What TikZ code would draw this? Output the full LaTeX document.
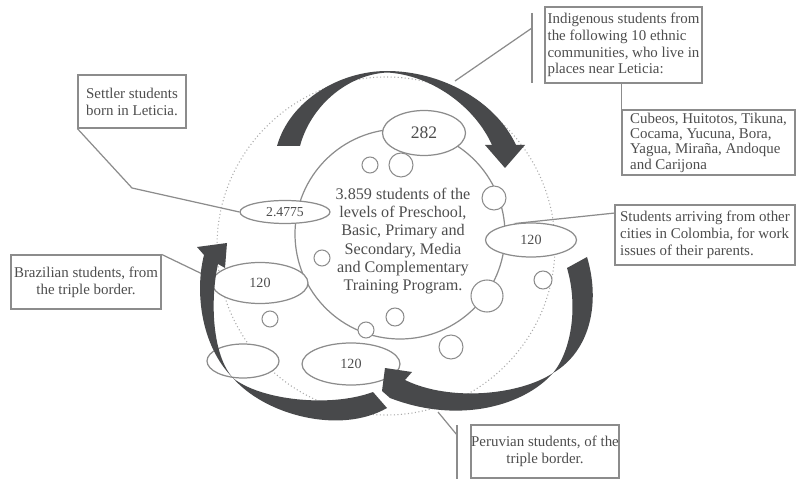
\documentclass[tikz,border=0pt]{standalone}
\usepackage{fontspec}
\setmainfont{Liberation Serif}
\usetikzlibrary{shapes.geometric}
\definecolor{linegray}{HTML}{8C8C8C}
\definecolor{dotgray}{HTML}{AAAAAA}
\definecolor{textgray}{HTML}{4D4D4D}
\definecolor{arrowgray}{HTML}{48494B}
\tikzset{
  note/.style={draw=linegray, line width=0.7pt, fill=white, text=textgray, inner sep=0pt, font=\fontsize{8.5}{9.6}\selectfont},
  blob/.style={ellipse, draw=linegray, line width=0.7pt, fill=white, text=textgray, inner sep=0pt},
  bubble/.style={circle, draw=linegray, line width=0.6pt, fill=white, inner sep=0pt},
  link/.style={draw=linegray, line width=0.7pt},
  bigarrow/.style={fill=arrowgray, draw=none}
}
\begin{document}
\begin{tikzpicture}[x=0.02cm, y=-0.02cm]
\useasboundingbox (0,0) rectangle (797,479);
\node[note, align=left, minimum width=2.16cm, minimum height=1.06cm] (settler) at (132,101.5) {Settler students\\born in Leticia.};
\node[note, align=left, minimum width=3.14cm, minimum height=1.52cm] (indig) at (623.5,45) {Indigenous students from\\the following 10 ethnic\\communities, who live in\\places near Leticia:};
\node[note, align=left, minimum width=3.46cm, minimum height=1.30cm, font=\fontsize{8.5}{8.7}\selectfont] (tribes) at (708.5,142.5) {Cubeos, Huitotos, Tikuna,\\Cocama, Yucuna, Bora,\\Yagua, Miraña, Andoque\\and Carijona};
\node[note, align=left, minimum width=3.60cm, minimum height=1.20cm] (colombia) at (705,235) {Students arriving from other\\cities in Colombia, for work\\issues of their parents.};
\node[note, align=center, minimum width=3.00cm, minimum height=1.08cm] (brazil) at (86,282) {Brazilian students, from\\the triple border.};
\node[note, align=center, minimum width=2.96cm, minimum height=1.06cm] (peru) at (545,451.5) {Peruvian students, of the\\triple border.};
\draw[dotgray, line width=0.6pt, dash pattern=on 0.6pt off 1.4pt] (386,246) circle (169);
\draw[linegray, line width=0.7pt] (400,234) circle (105);
\coordinate (ibarTop) at (532,13);
\coordinate (ibarBot) at (532,83);
\coordinate (ibarMid) at (532,28);
\coordinate (ifoot) at (455,81);
\coordinate (sbend) at (132,188);
\coordinate (cfoot) at (615,213);
\coordinate (pbarTop) at (457,425);
\coordinate (pbarBot) at (457,479);
\coordinate (pbarMid) at (457,435);
\coordinate (pfoot) at (438,412);
\draw[link] (ibarTop) -- (ibarBot);
\draw[link] (ifoot) -- (ibarMid);
\draw[link] (tribes.north west) -- (tribes.north west |- indig.south);
\draw[link] (pbarTop) -- (pbarBot);
\draw[link] (pfoot) -- (pbarMid);
\node[blob, minimum width=1.66cm, minimum height=0.90cm, font=\fontsize{10}{12}\selectfont] (e282) at (424,133) {282};
\node[blob, minimum width=1.80cm, minimum height=0.46cm, font=\fontsize{7.8}{9}\selectfont] (e2477) at (285,212) {2.4775};
\node[blob, minimum width=1.82cm, minimum height=0.68cm, font=\fontsize{8}{9}\selectfont] (eright) at (531,240) {120};
\node[blob, minimum width=1.92cm, minimum height=0.82cm, font=\fontsize{8}{9}\selectfont] (eleft) at (260,283) {120};
\node[blob, minimum width=1.96cm, minimum height=0.84cm, font=\fontsize{8}{9}\selectfont] (ebottom) at (351,364) {120};
\node[blob, minimum width=1.44cm, minimum height=0.68cm] (eempty) at (243,361) {};
\node[bubble, minimum size=0.32cm] (d1) at (370,165) {};
\node[bubble, minimum size=0.48cm] (d2) at (401,165) {};
\node[bubble, minimum size=0.48cm] (d3) at (494,198) {};
\node[bubble, minimum size=0.32cm] (d4) at (322,258) {};
\node[bubble, minimum size=0.36cm] (d5) at (543,280) {};
\node[bubble, minimum size=0.64cm] (d6) at (487,296) {};
\node[bubble, minimum size=0.36cm] (d7) at (395,317) {};
\node[bubble, minimum size=0.32cm] (d8) at (366,330) {};
\node[bubble, minimum size=0.48cm] (d9) at (451,347) {};
\node[bubble, minimum size=0.32cm] (d10) at (270,319) {};
\node[text=textgray, align=center, font=\fontsize{9.2}{10.4}\selectfont] (main) at (403,241) {3.859 students of the\\levels of Preschool,\\Basic, Primary and\\Secondary, Media\\and Complementary\\Training Program.};
\draw[link] (settler.south west) -- (sbend) -- (e2477.west);
\draw[link] (eright.135) -- (cfoot);
\draw[link] (brazil.north east) -- (eleft.175);
\fill[bigarrow] (277,146) .. controls (290,100) and (340,71) .. (387,71)
  .. controls (440,71) and (495,100) .. (516,145) -- (525,145) -- (505,168) -- (485,145) -- (492,145)
  .. controls (475,107) and (432,75) .. (387,72.5)
  .. controls (345,75) and (310,108) .. (300,146) -- cycle;
\fill[bigarrow] (567,268) -- (587,257) .. controls (600,300) and (592,350) .. (553,373)
  .. controls (525,405) and (460,425) .. (390,398)
  -- (382,391) -- (385,368) -- (412,372) -- (405,380)
  .. controls (450,402) and (520,395) .. (553,373)
  .. controls (572,350) and (578,305) .. (567,268) -- cycle;
\fill[bigarrow] (373,392) .. controls (330,408) and (260,400) .. (233,378)
  .. controls (212,355) and (210,300) .. (218,264)
  -- (225,268) -- (227,243) -- (197,247) -- (204,255)
  .. controls (195,290) and (200,345) .. (233,378)
  .. controls (265,415) and (340,435) .. (387,408) -- cycle;
\end{tikzpicture}
\end{document}
